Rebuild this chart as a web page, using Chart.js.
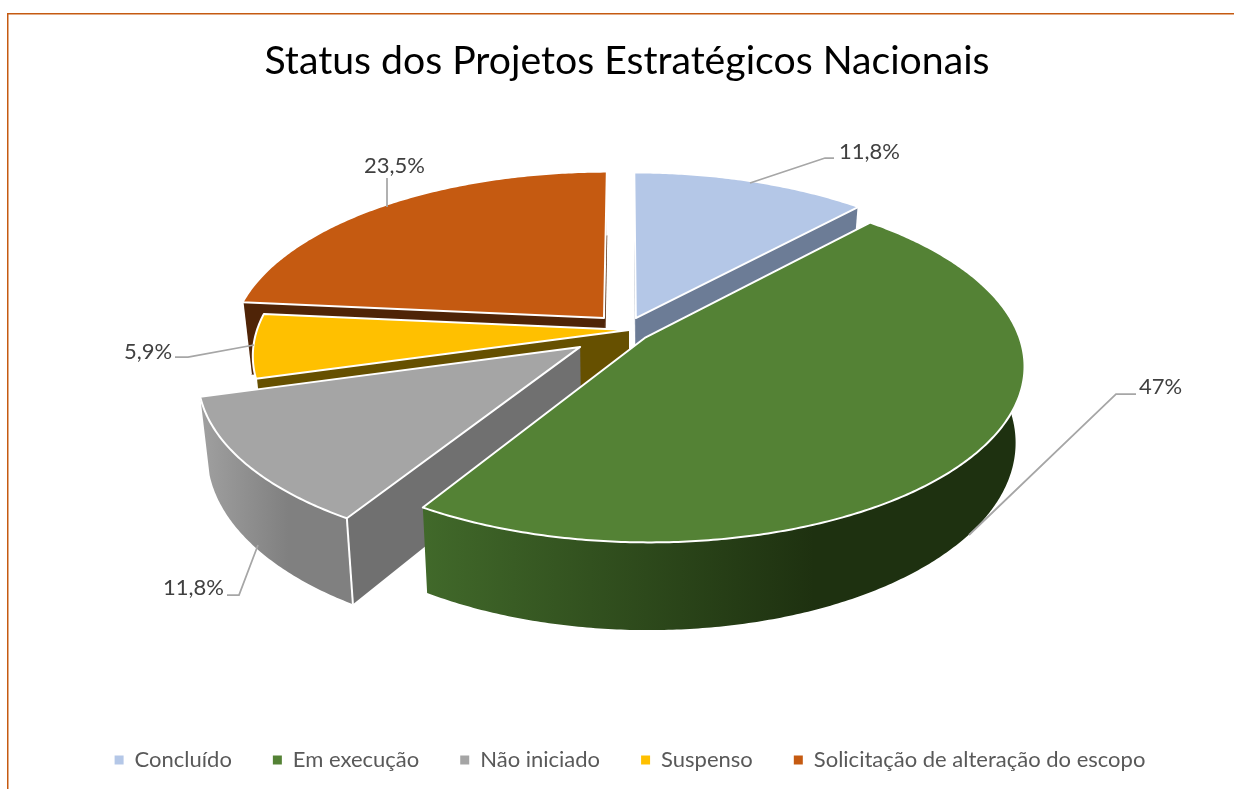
<!DOCTYPE html>
<html lang="pt">
<head>
<meta charset="utf-8">
<title>Status dos Projetos Estratégicos Nacionais</title>
<script src="https://cdn.jsdelivr.net/npm/chart.js@4"></script>
<style>html,body{margin:0;padding:0;background:#fff}canvas{display:block}</style>
</head>
<body>
<canvas id="c" width="1234" height="789"></canvas>
<script>
const categories = ['Concluído', 'Em execução', 'Não iniciado', 'Suspenso', 'Solicitação de alteração do escopo'];
const percentages = [11.8, 47, 11.8, 5.9, 23.5];

const topColors = ['#B4C7E7', '#548235', '#A5A5A5', '#FFC000', '#C55A11'];
const cutColors = ['#6C7C96', '#41692A', '#707070', '#665000', '#4F2407'];
const rimColors = [['#6C7C96', '#6C7C96'], ['#41692A', '#1E3110'], ['#A0A0A0', '#808080'], ['#665000', '#665000'], ['#4F2407', '#4F2407']];
const explode = [33, 32, 53, 0, 33];
const nudge = [[-1, 2], [-6, -1], [-2, 2], [4, 0], [1, -1]];
const paintOrder = [4, 0, 3, 2, 1];

const view = { cx: 625, cy: 330, tilt: 0.46, persp: 0.0004, depth: 74, shrink: 0.978 };
const callouts = [
  { line: [[750, 183], [825, 158], [834, 158]], x: 839, y: 152 },
  { line: [[969, 535], [1116, 394], [1136, 394]], x: 1139, y: 387 },
  { line: [[258, 545], [239, 595], [227, 595]], x: 163, y: 588 },
  { line: [[254, 345], [188, 357], [175, 357]], x: 124, y: 352 },
  { line: [[387, 207], [387, 178]], x: 364, y: 166 }
];
const FONT = 'Lato, Carlito, sans-serif';

function project(X, Y, low) {
  const w = 1 / (1 - view.persp * Y);
  let x = view.cx + X * w;
  let y = view.cy + Y * view.tilt * w;
  if (low) {
    x = view.cx + (x - view.cx) * view.shrink;
    y += view.depth * w;
  }
  return [x, y];
}

function tracePoly(ctx, pts) {
  ctx.beginPath();
  pts.forEach((p, i) => (i ? ctx.lineTo(p[0], p[1]) : ctx.moveTo(p[0], p[1])));
  ctx.closePath();
}

function drawSlice(ctx, arc, i) {
  const { startAngle, endAngle, outerRadius: R } = arc;
  const mid = (startAngle + endAngle) / 2;
  const ox = Math.cos(mid) * arc.options.offset;
  const oy = Math.sin(mid) * arc.options.offset;
  const steps = Math.max(4, Math.ceil((endAngle - startAngle) / 0.01));
  const planar = [];
  for (let s = 0; s <= steps; s++) {
    const a = startAngle + (endAngle - startAngle) * s / steps;
    planar.push([ox + R * Math.cos(a), oy + R * Math.sin(a)]);
  }
  const top = planar.map(p => project(p[0], p[1], false));
  const low = planar.map(p => project(p[0], p[1], true));
  const apexT = project(ox, oy, false);
  const apexL = project(ox, oy, true);

  const faces = (edgeT, other) => {
    const ex = edgeT[0] - apexT[0], ey = edgeT[1] - apexT[1];
    const c = ex * (other[1] - apexT[1]) - ey * (other[0] - apexT[0]);
    return ex * c < 0;
  };
  const ends = [
    { t: top[0], l: low[0], visible: faces(top[0], top[top.length - 1]) },
    { t: top[top.length - 1], l: low[low.length - 1], visible: faces(top[top.length - 1], top[0]) }
  ];

  ctx.save();
  ctx.translate(nudge[i][0], nudge[i][1]);

  ends.forEach(e => {
    if (!e.visible) return;
    tracePoly(ctx, [apexT, e.t, e.l, apexL]);
    ctx.fillStyle = cutColors[i];
    ctx.fill();
  });

  const xs = top.map(p => p[0]);
  const grad = ctx.createLinearGradient(Math.min(...xs), 0, Math.max(...xs), 0);
  grad.addColorStop(0, rimColors[i][0]);
  grad.addColorStop(i === 1 ? 0.65 : 0.6, rimColors[i][1]);
  grad.addColorStop(1, rimColors[i][1]);
  tracePoly(ctx, top.concat(low.slice().reverse()));
  ctx.fillStyle = grad;
  ctx.fill();

  ctx.strokeStyle = '#fff';
  ctx.lineWidth = 2;
  ctx.lineJoin = 'round';
  ends.forEach(e => {
    if (!e.visible) return;
    ctx.beginPath();
    ctx.moveTo(e.t[0], e.t[1]);
    ctx.lineTo(e.l[0], e.l[1]);
    ctx.stroke();
  });

  tracePoly(ctx, [apexT].concat(top));
  ctx.fillStyle = arc.options.backgroundColor;
  ctx.fill();
  ctx.stroke();
  ctx.restore();
}

const tiltedPie = {
  id: 'tiltedPie',
  afterLayout(chart) {
    chart.legend.left += 3;
    chart.legend.right += 3;
  },
  beforeDraw(chart) {
    const ctx = chart.ctx;
    ctx.save();
    ctx.strokeStyle = '#C55A11';
    ctx.lineWidth = 1.5;
    ctx.beginPath();
    ctx.moveTo(7.75, 789);
    ctx.lineTo(7.75, 13.75);
    ctx.lineTo(1234, 13.75);
    ctx.stroke();
    ctx.restore();
  },
  beforeDatasetDraw(chart, args) {
    const ctx = chart.ctx;
    const arcs = args.meta.data;
    ctx.save();
    paintOrder.forEach(i => drawSlice(ctx, arcs[i], i));
    ctx.restore();

    ctx.save();
    ctx.strokeStyle = '#A6A6A6';
    ctx.lineWidth = 1.75;
    callouts.forEach(c => {
      ctx.beginPath();
      c.line.forEach((p, k) => (k ? ctx.lineTo(p[0], p[1]) : ctx.moveTo(p[0], p[1])));
      ctx.stroke();
    });
    ctx.fillStyle = '#404040';
    ctx.font = '22px ' + FONT;
    ctx.textBaseline = 'middle';
    ctx.textAlign = 'left';
    callouts.forEach((c, i) => {
      ctx.fillText(String(percentages[i]).replace('.', ',') + '%', c.x, c.y);
    });
    ctx.restore();
    return false;
  }
};

new Chart(document.getElementById('c'), {
  type: 'pie',
  data: {
    labels: categories,
    datasets: [{ data: percentages, backgroundColor: topColors, offset: explode, borderWidth: 0 }]
  },
  plugins: [tiltedPie],
  options: {
    responsive: false,
    animation: false,
    radius: 372,
    layout: { padding: { left: 20, bottom: 8 } },
    plugins: {
      tooltip: { enabled: false },
      title: {
        display: true,
        text: 'Status dos Projetos Estratégicos Nacionais',
        color: '#000',
        font: { family: FONT, size: 39.2, weight: 'normal' },
        padding: { top: 38, bottom: 10 }
      },
      legend: {
        position: 'bottom',
        labels: {
          boxWidth: 9,
          boxHeight: 9,
          padding: 41,
          color: '#595959',
          font: { family: FONT, size: 22 }
        }
      }
    }
  }
});
</script>
</body>
</html>
